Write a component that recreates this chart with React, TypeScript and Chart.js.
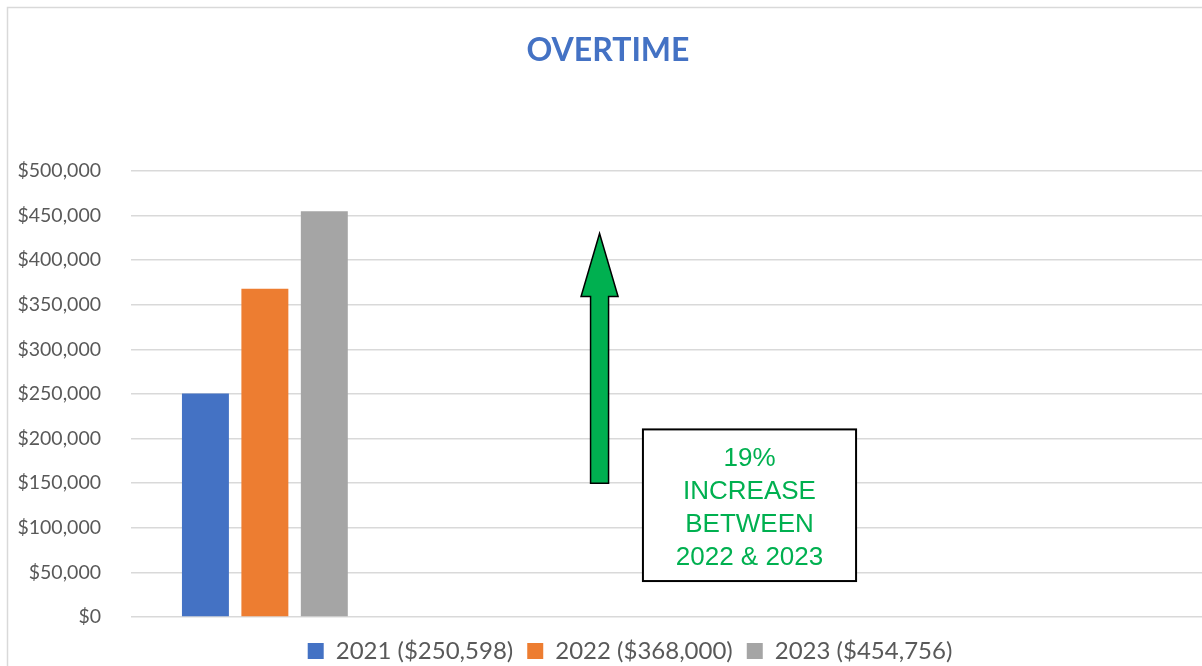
import React, { useEffect, useRef } from 'react';
import { Chart, registerables } from 'chart.js';

Chart.register(...registerables);

// ---- data ----
const CATEGORIES = ['OVERTIME', '', '', ''];
const SERIES_LABELS = ['2021 ($250,598)', '2022 ($368,000)', '2023 ($454,756)'];
const VALUES_2021 = [250598, null, null, null];
const VALUES_2022 = [368000, null, null, null];
const VALUES_2023 = [454756, null, null, null];
const SERIES_COLORS = ['#4472C4', '#ED7D31', '#A5A5A5'];
const Y_MIN = 0;
const Y_MAX = 500000;
const Y_STEP = 50000;
const TITLE = 'OVERTIME';
// annotation (in data coordinates: category index, value)
const ARROW_X = 1.25;
const ARROW_FROM = 150000;
const ARROW_TO = 430000;
const NOTE_LINES = ['19%', 'INCREASE', 'BETWEEN', '2022 & 2023'];
const NOTE_X = [1.412, 2.208];
const NOTE_Y = [40300, 210300];

const GREEN = '#00B050';
const TEXT_GRAY = '#595959';
const LEGEND_SHIFT = 29;

const decorPlugin = {
  id: 'decor',
  afterLayout(chart: any) {
    if (chart.legend) {
      chart.legend.left += LEGEND_SHIFT;
      chart.legend.right += LEGEND_SHIFT;
    }
  },
  beforeDraw(chart: any) {
    const ctx = chart.ctx;
    ctx.save();
    ctx.fillStyle = '#ffffff';
    ctx.fillRect(0, 0, chart.width, chart.height);
    ctx.strokeStyle = '#D9D9D9';
    ctx.lineWidth = 1.5;
    ctx.strokeRect(7.5, 7.5, chart.width + 40, chart.height + 40);
    ctx.font = 'bold 32px Lato';
    ctx.fillStyle = '#4472C4';
    ctx.textAlign = 'center';
    ctx.textBaseline = 'alphabetic';
    ctx.fillText(TITLE, 608, 61);
    ctx.restore();
  },
  afterDatasetsDraw(chart: any) {
    const ctx = chart.ctx;
    const xs = chart.scales.x;
    const ys = chart.scales.y;
    ctx.save();
    // arrow
    const cx = xs.getPixelForValue(ARROW_X);
    const yb = ys.getPixelForValue(ARROW_FROM);
    const yt = ys.getPixelForValue(ARROW_TO);
    const sw = 9;
    const hw = 18.5;
    const hh = 63;
    ctx.beginPath();
    ctx.moveTo(cx, yt);
    ctx.lineTo(cx + hw, yt + hh);
    ctx.lineTo(cx + sw, yt + hh);
    ctx.lineTo(cx + sw, yb);
    ctx.lineTo(cx - sw, yb);
    ctx.lineTo(cx - sw, yt + hh);
    ctx.lineTo(cx - hw, yt + hh);
    ctx.closePath();
    ctx.fillStyle = GREEN;
    ctx.fill();
    ctx.strokeStyle = '#000000';
    ctx.lineWidth = 1.5;
    ctx.lineJoin = 'miter';
    ctx.stroke();

    // note box
    const l = xs.getPixelForValue(NOTE_X[0]);
    const r = xs.getPixelForValue(NOTE_X[1]);
    const t = ys.getPixelForValue(NOTE_Y[1]);
    const b = ys.getPixelForValue(NOTE_Y[0]);
    ctx.fillStyle = '#ffffff';
    ctx.fillRect(l, t, r - l, b - t);
    ctx.strokeStyle = '#000000';
    ctx.lineWidth = 2;
    ctx.strokeRect(l, t, r - l, b - t);
    ctx.fillStyle = GREEN;
    ctx.font = '26px "Liberation Sans", Arial, sans-serif';
    ctx.textAlign = 'center';
    ctx.textBaseline = 'alphabetic';
    const mx = (l + r) / 2;
    const my = (t + b) / 2;
    const lh = 32.7;
    NOTE_LINES.forEach((line, i) => {
      const cy = my + (i - (NOTE_LINES.length - 1) / 2) * lh + 1;
      ctx.fillText(line, mx, cy + 9.3);
    });
    ctx.restore();
  },
};

export default function App() {
  const ref = useRef<HTMLCanvasElement | null>(null);

  useEffect(() => {
    if (!ref.current) return;
    const values = [VALUES_2021, VALUES_2022, VALUES_2023];
    const chart = new Chart(ref.current, {
      type: 'bar',
      data: {
        labels: CATEGORIES,
        datasets: SERIES_LABELS.map((label, i) => ({
          label,
          data: values[i],
          backgroundColor: SERIES_COLORS[i],
          borderWidth: 0,
          categoryPercentage: 0.666,
          barPercentage: 0.79,
        })),
      },
      options: {
        responsive: false,
        animation: false,
        events: [],
        layout: { padding: { top: 171, left: 0, right: 0, bottom: -7 } },
        scales: {
          x: {
            display: true,
            afterFit: (scale: any) => {
              scale.height = 8;
            },
            border: { display: false },
            grid: { display: false },
            ticks: { display: false },
          },
          y: {
            min: Y_MIN,
            max: Y_MAX,
            afterFit: (scale: any) => {
              scale.width = 131;
            },
            border: { display: false },
            grid: { color: '#D9D9D9', lineWidth: 1.5, drawTicks: false },
            ticks: {
              stepSize: Y_STEP,
              padding: 30,
              color: TEXT_GRAY,
              font: { family: 'Lato', size: 19.5 },
              callback: (v: any) => '$' + Number(v).toLocaleString('en-US'),
            },
          },
        },
        plugins: {
          title: { display: false },
          tooltip: { enabled: false },
          legend: {
            display: true,
            position: 'bottom',
            labels: {
              boxWidth: 16,
              boxHeight: 16,
              padding: 14,
              color: TEXT_GRAY,
              font: { family: 'Lato', size: 24 },
            },
          },
        },
      },
      plugins: [decorPlugin],
    } as any);
    return () => chart.destroy();
  }, []);

  return (
    <div style={{ position: 'absolute', left: 0, top: 0, width: 1202, height: 666, background: '#fff' }}>
      <canvas ref={ref} width={1202} height={666} style={{ display: 'block' }} />
    </div>
  );
}
